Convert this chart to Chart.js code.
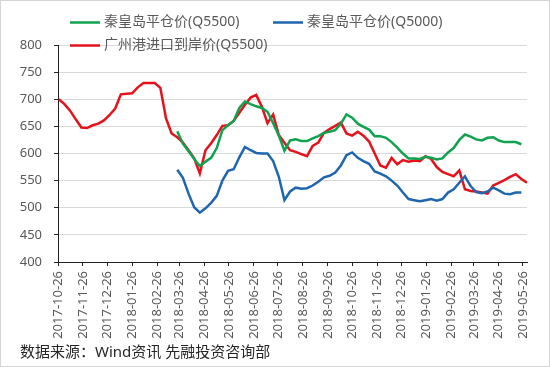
<!DOCTYPE html>
<html lang="zh">
<head>
    <meta charset="UTF-8">
    <title>秦皇岛平仓价与广州港进口到岸价</title>
    <script src="https://cdn.jsdelivr.net/npm/chart.js"></script>
    <style>
        body { margin: 0; background: #fff; }
    </style>
</head>
<body>
<canvas id="price-chart" width="550" height="367"></canvas>
<script>
    // 周度日期
    const dates = [
        '2017-10-27', '2017-11-03', '2017-11-10', '2017-11-17', '2017-11-24', '2017-12-01', '2017-12-08',
        '2017-12-15', '2017-12-22', '2017-12-29', '2018-01-05', '2018-01-12', '2018-01-19', '2018-01-26',
        '2018-02-02', '2018-02-09', '2018-02-16', '2018-02-23', '2018-03-02', '2018-03-09', '2018-03-16',
        '2018-03-23', '2018-03-30', '2018-04-06', '2018-04-13', '2018-04-20', '2018-04-27', '2018-05-04',
        '2018-05-11', '2018-05-18', '2018-05-25', '2018-06-01', '2018-06-08', '2018-06-15', '2018-06-22',
        '2018-06-29', '2018-07-06', '2018-07-13', '2018-07-20', '2018-07-27', '2018-08-03', '2018-08-10',
        '2018-08-17', '2018-08-24', '2018-08-31', '2018-09-07', '2018-09-14', '2018-09-21', '2018-09-28',
        '2018-10-05', '2018-10-12', '2018-10-19', '2018-10-26', '2018-11-02', '2018-11-09', '2018-11-16',
        '2018-11-23', '2018-11-30', '2018-12-07', '2018-12-14', '2018-12-21', '2018-12-28', '2019-01-04',
        '2019-01-11', '2019-01-18', '2019-01-25', '2019-02-01', '2019-02-08', '2019-02-15', '2019-02-22',
        '2019-03-01', '2019-03-08', '2019-03-15', '2019-03-22', '2019-03-29', '2019-04-05', '2019-04-12',
        '2019-04-19', '2019-04-26', '2019-05-03', '2019-05-10', '2019-05-17', '2019-05-24', '2019-05-31'
    ];

    const qhdQ5500 = [
        null, null, null, null, null, null, null, null, null, null,
        null, null, null, null, null, null, null, null, null, null, null,
        641, 618, 604, 590, 577, 585, 592, 610, 643,
        652, 660, 684, 696, 691, 687, 684, 677, 656, 633,
        605, 624, 626, 623, 623, 628, 632, 638, 640, 643,
        655, 672, 666, 655, 649, 644, 632, 632, 629, 621,
        611, 600, 591, 591, 590, 594, 592, 589, 591, 602,
        610, 625, 635, 631, 626, 624, 629, 630, 624, 621,
        621, 621, 617, null
    ];

    const qhdQ5000 = [
        null, null, null, null, null, null, null, null, null, null,
        null, null, null, null, null, null, null, null, null, null, null,
        570, 555, 526, 501, 491, 499, 509, 522, 550,
        568, 571, 593, 612, 606, 601, 600, 600, 586, 557,
        514, 530, 537, 535, 536, 541, 548, 556, 559, 565,
        578, 597, 602, 592, 586, 581, 567, 563, 558, 550,
        541, 528, 516, 514, 512, 514, 516, 513, 516, 528,
        534, 546, 558, 540, 529, 527, 530, 537, 532, 526,
        525, 528, 528, null
    ];

    const gzImport = [
        700, 691, 679, 663, 648, 647, 652, 655, 661, 671,
        683, 709, 710, 711, 722, 730, 730, 730, 721, 665,
        637, 630, 620, 606, 591, 563, 606, 619, 634, 651,
        652, 660, 675, 690, 703, 708, 686, 656, 672, 634,
        620, 606, 603, 599, 595, 614, 620, 638, 645, 651,
        657, 637, 633, 640, 633, 622, 600, 578, 574, 592,
        580, 588, 585, 587, 586, 595, 590, 575, 566, 562,
        558, 569, 534, 531, 530, 528, 526, 541, 546, 551,
        557, 562, 553, 546
    ];

    const seriesNames = ['秦皇岛平仓价(Q5500)', '秦皇岛平仓价(Q5000)', '广州港进口到岸价(Q5500)'];
    const seriesColors = ['#0fa24f', '#1f66ae', '#e5121b'];

    const tickLabels = [
        '2017-10-26', '2017-11-26', '2017-12-26', '2018-01-26', '2018-02-26', '2018-03-26', '2018-04-26',
        '2018-05-26', '2018-06-26', '2018-07-26', '2018-08-26', '2018-09-26', '2018-10-26', '2018-11-26',
        '2018-12-26', '2019-01-26', '2019-02-26', '2019-03-26', '2019-04-26', '2019-05-26'
    ];
    const axisStart = '2017-10-26';
    const axisEnd = '2019-05-31';

    const sourceNote = '数据来源：Wind资讯 先融投资咨询部';

    const toDay = s => Date.parse(s + 'T00:00:00Z') / 86400000;
    const toPoints = arr => dates.map((d, i) => ({x: toDay(d), y: arr[i]}));

    const textColor = '#595959';
    const cjkFont = '"Noto Sans", "Noto Sans CJK SC", sans-serif';

    // 图例放在绘图区上方并与之重叠，手动绘制
    const legendAndNote = {
        id: 'legendAndNote',
        afterDraw(chart) {
            const ctx = chart.ctx;
            const spots = [[70, 22], [273, 22], [70, 45]];
            ctx.save();
            chart.data.datasets.forEach((ds, i) => {
                const [lx, ly] = spots[i];
                ctx.strokeStyle = ds.borderColor;
                ctx.lineWidth = 2.5;
                ctx.beginPath();
                ctx.moveTo(lx, ly + 0.5);
                ctx.lineTo(lx + 30, ly + 0.5);
                ctx.stroke();
                ctx.fillStyle = textColor;
                ctx.font = '14px ' + cjkFont;
                ctx.textBaseline = 'middle';
                ctx.textAlign = 'left';
                ctx.fillText(ds.label, lx + 34, ly);
            });
            ctx.fillStyle = '#262626';
            ctx.font = '15px ' + cjkFont;
            ctx.textBaseline = 'middle';
            ctx.fillText(sourceNote, 20, 353);
            ctx.strokeStyle = '#d4d4d4';
            ctx.lineWidth = 1;
            ctx.strokeRect(0.5, 0.5, 549, 366);
            ctx.restore();
        }
    };

    const ctx = document.getElementById('price-chart').getContext('2d');
    new Chart(ctx, {
        type: 'line',
        data: {
            datasets: [qhdQ5500, qhdQ5000, gzImport].map((arr, i) => ({
                label: seriesNames[i],
                data: toPoints(arr),
                borderColor: seriesColors[i],
                backgroundColor: seriesColors[i],
                borderWidth: 2.5,
                pointRadius: 0,
                tension: 0,
                fill: false,
                spanGaps: false
            }))
        },
        options: {
            responsive: false,
            animation: false,
            layout: {padding: {top: 45, right: 23, bottom: 25, left: 0}},
            plugins: {
                legend: {display: false},
                tooltip: {enabled: false}
            },
            scales: {
                x: {
                    type: 'linear',
                    min: toDay(axisStart),
                    max: toDay(axisEnd),
                    afterBuildTicks: scale => {
                        scale.ticks = tickLabels.map(t => ({value: toDay(t)}));
                    },
                    afterFit: scale => { scale.height = 80; },
                    ticks: {
                        autoSkip: false,
                        minRotation: 90,
                        maxRotation: 90,
                        padding: 5,
                        color: textColor,
                        font: {family: cjkFont, size: 13},
                        callback: (v, i) => tickLabels[i]
                    },
                    grid: {
                        drawOnChartArea: false,
                        drawTicks: true,
                        tickLength: 4,
                        tickColor: '#222'
                    },
                    border: {display: true, color: '#222', width: 1}
                },
                y: {
                    min: 400,
                    max: 800,
                    afterFit: scale => { scale.width = 58; },
                    ticks: {
                        stepSize: 50,
                        padding: 12,
                        color: textColor,
                        font: {family: cjkFont, size: 13}
                    },
                    grid: {
                        color: '#d9d9d9',
                        lineWidth: 1,
                        tickLength: 4,
                        tickColor: '#222'
                    },
                    border: {display: true, color: '#222', width: 1}
                }
            }
        },
        plugins: [legendAndNote]
    });
</script>
</body>
</html>
